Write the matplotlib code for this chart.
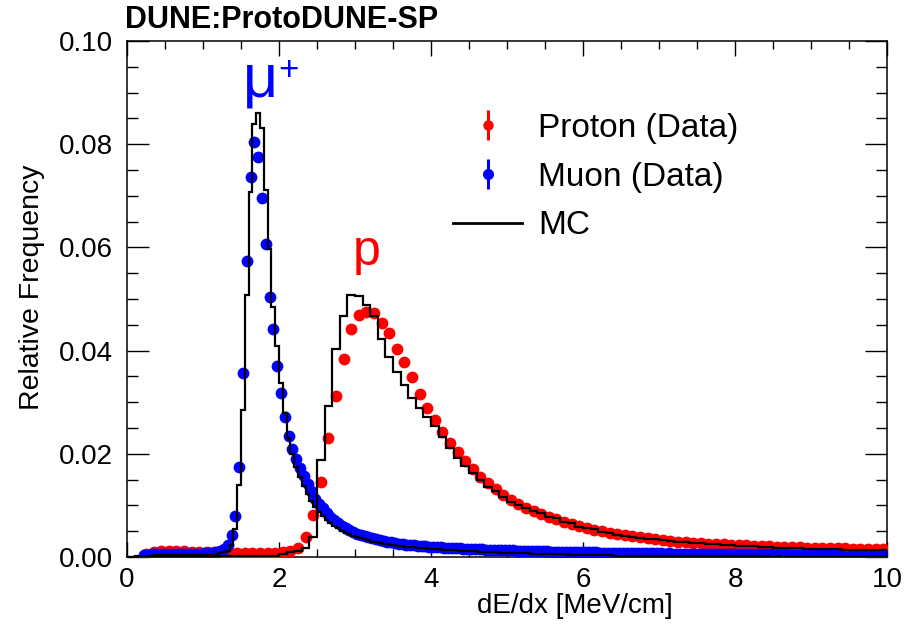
import numpy as np
import matplotlib
matplotlib.use("Agg")
import matplotlib.pyplot as plt
from matplotlib.ticker import MultipleLocator, FormatStrFormatter
from matplotlib.lines import Line2D
from matplotlib.legend_handler import HandlerTuple

plt.rcParams['font.family'] = ['Liberation Sans', 'DejaVu Sans']

# ---------------- data ----------------
# Muon data: 0.05 wide bins, first centre at 0.225
muon_first_center = 0.225
muon_bin_width = 0.05
muon_data = [
    0.0003, 0.0004, 0.0005, 0.0005, 0.0006, 0.0006, 0.0006, 0.0006, 0.0006, 0.0006,  # 0.225-0.675
    0.0006, 0.0006, 0.0006, 0.0006, 0.0006, 0.0006, 0.0007, 0.0007, 0.0008, 0.0009,  # 0.725-1.175
    0.0011, 0.0015, 0.0024, 0.0043, 0.0080, 0.0175, 0.0357, 0.0574, 0.0737, 0.0805,  # 1.225-1.675
    0.0776, 0.0695, 0.0607, 0.0503, 0.0441, 0.0370, 0.0317, 0.0272, 0.0235, 0.0210,  # 1.725-2.175
    0.0190, 0.0172, 0.0157, 0.0142, 0.0127, 0.0113, 0.0103, 0.0094, 0.0086, 0.0078,  # 2.225-2.675
    0.0071, 0.0065, 0.0060, 0.0056, 0.0052, 0.0048, 0.0045, 0.0043, 0.0041, 0.0039,  # 2.725-3.175
    0.0037, 0.0035, 0.0033, 0.0031, 0.0030, 0.0029, 0.0027, 0.0026, 0.0025, 0.0024,  # 3.225-3.675
    0.0023, 0.0023, 0.0022, 0.0021, 0.0021, 0.0020, 0.0020, 0.0019, 0.0019, 0.0018,  # 3.725-4.175
    0.0018, 0.0017, 0.0017, 0.0017, 0.0016, 0.0016, 0.0016, 0.0015, 0.0015, 0.0015,  # 4.225-4.675
    0.0014, 0.0014, 0.0014, 0.0014, 0.0013, 0.0013, 0.0013, 0.0013, 0.0012, 0.0012,  # 4.725-5.175
    0.0012, 0.0012, 0.0011, 0.0011, 0.0011, 0.0011, 0.0011, 0.0010, 0.0010, 0.0010,  # 5.225-5.675
    0.0010, 0.0010, 0.0010, 0.0009, 0.0009, 0.0009, 0.0009, 0.0009, 0.0009, 0.0009,  # 5.725-6.175
    0.0008, 0.0008, 0.0008, 0.0008, 0.0008, 0.0008, 0.0008, 0.0008, 0.0007, 0.0007,  # 6.225-6.675
    0.0007, 0.0007, 0.0007, 0.0007, 0.0007, 0.0007, 0.0007, 0.0006, 0.0007, 0.0006,  # 6.725-7.175
    0.0006, 0.0006, 0.0006, 0.0006, 0.0006, 0.0006, 0.0006, 0.0006, 0.0006, 0.0005,  # 7.225-7.675
    0.0006, 0.0005, 0.0005, 0.0005, 0.0005, 0.0005, 0.0005, 0.0005, 0.0005, 0.0005,  # 7.725-8.175
    0.0005, 0.0005, 0.0005, 0.0005, 0.0005, 0.0005, 0.0004, 0.0005, 0.0004, 0.0005,  # 8.225-8.675
    0.0004, 0.0004, 0.0004, 0.0004, 0.0004, 0.0004, 0.0004, 0.0004, 0.0004, 0.0004,  # 8.725-9.175
    0.0004, 0.0004, 0.0004, 0.0004, 0.0004, 0.0004, 0.0004, 0.0004, 0.0003, 0.0004,  # 9.225-9.675
    0.0004, 0.0003, 0.0004, 0.0003, 0.0004, 0.0003,                                  # 9.725-9.975
]

# Proton data: 0.1 wide bins, first centre at 0.25
proton_first_center = 0.25
proton_bin_width = 0.1
proton_data = [
    0.0005, 0.0010, 0.0012, 0.0012, 0.0011, 0.0011, 0.0010, 0.0010, 0.0009, 0.0009,  # 0.25-1.15
    0.0009, 0.0008, 0.0008, 0.0008, 0.0008, 0.0008, 0.0008, 0.0008, 0.0009, 0.0011,  # 1.25-2.15
    0.0017, 0.0039, 0.0081, 0.0146, 0.0230, 0.0312, 0.0383, 0.0441, 0.0469, 0.0475,  # 2.25-3.15
    0.0472, 0.0453, 0.0434, 0.0404, 0.0378, 0.0349, 0.0316, 0.0289, 0.0266, 0.0243,  # 3.25-4.15
    0.0221, 0.0204, 0.0186, 0.0170, 0.0156, 0.0143, 0.0131, 0.0120, 0.0111, 0.0102,  # 4.25-5.15
    0.0095, 0.0089, 0.0083, 0.0078, 0.0073, 0.0068, 0.0064, 0.0060, 0.0057, 0.0053,  # 5.25-6.15
    0.0050, 0.0047, 0.0044, 0.0042, 0.0040, 0.0038, 0.0036, 0.0034, 0.0033, 0.0031,  # 6.25-7.15
    0.0030, 0.0029, 0.0028, 0.0027, 0.0026, 0.0025, 0.0025, 0.0024, 0.0023, 0.0023,  # 7.25-8.15
    0.0022, 0.0021, 0.0021, 0.0020, 0.0020, 0.0019, 0.0019, 0.0018, 0.0018, 0.0018,  # 8.25-9.15
    0.0017, 0.0017, 0.0017, 0.0016, 0.0016, 0.0016, 0.0015, 0.0015,                  # 9.25-9.95
]

# MC muon histogram: 0.05 wide bins from 0 to 10
mc_muon = [
    0.0000, 0.0000, 0.0001, 0.0001, 0.0002, 0.0002, 0.0002, 0.0003,                  # 0.00-0.40
    0.0004, 0.0004, 0.0004, 0.0004, 0.0004, 0.0004, 0.0004, 0.0004,                  # 0.40-0.80
    0.0004, 0.0004, 0.0004, 0.0004, 0.0004, 0.0004, 0.0004, 0.0005,                  # 0.80-1.20
    0.0007, 0.0009, 0.0012, 0.0023, 0.0055, 0.0140, 0.0285, 0.0508,                  # 1.20-1.60
    0.0708, 0.0839, 0.0861, 0.0831, 0.0711, 0.0596, 0.0485, 0.0409,                  # 1.60-2.00
    0.0337, 0.0279, 0.0230, 0.0200, 0.0175, 0.0156, 0.0138, 0.0122, 0.0108, 0.0097,  # 2.00-2.50
    0.0088, 0.0079, 0.0072, 0.0066, 0.0061, 0.0056, 0.0051, 0.0047, 0.0044, 0.0041,  # 2.50-3.00
    0.0038, 0.0036, 0.0034, 0.0032, 0.0030, 0.0029, 0.0027, 0.0026, 0.0025, 0.0024,  # 3.00-3.50
    0.0023, 0.0022, 0.0021, 0.0020, 0.0019, 0.0019, 0.0018, 0.0017, 0.0017, 0.0016,  # 3.50-4.00
    0.0016, 0.0015, 0.0015, 0.0014, 0.0014, 0.0013, 0.0013, 0.0012, 0.0012, 0.0012,  # 4.00-4.50
    0.0011, 0.0011, 0.0010, 0.0010, 0.0010, 0.0009, 0.0009, 0.0009, 0.0008, 0.0008,  # 4.50-5.00
    0.0008, 0.0008, 0.0007, 0.0007, 0.0007, 0.0007, 0.0006, 0.0006, 0.0006, 0.0006,  # 5.00-5.50
    0.0006, 0.0005, 0.0005, 0.0005, 0.0005, 0.0005, 0.0004, 0.0004, 0.0004, 0.0004,  # 5.50-6.00
    0.0004, 0.0004, 0.0003, 0.0003, 0.0003, 0.0003, 0.0003, 0.0003, 0.0002, 0.0002,  # 6.00-6.50
    0.0002, 0.0002, 0.0002, 0.0002, 0.0002, 0.0002, 0.0002, 0.0001, 0.0001, 0.0001,  # 6.50-7.00
    0.0001, 0.0001, 0.0001, 0.0001, 0.0001, 0.0001, 0.0001, 0.0001, 0.0001, 0.0001,  # 7.00-7.50
    0.0001, 0.0001, 0.0001, 0.0001, 0.0001, 0.0001, 0.0001, 0.0001, 0.0001, 0.0001,  # 7.50-8.00
    0.0001, 0.0001, 0.0001, 0.0001, 0.0001, 0.0001, 0.0001, 0.0000, 0.0001, 0.0000,  # 8.00-8.50
    0.0000, 0.0001, 0.0000, 0.0000, 0.0000, 0.0000, 0.0000, 0.0000, 0.0000, 0.0000,  # 8.50-9.00
    0.0000, 0.0000, 0.0000, 0.0000, 0.0000, 0.0000, 0.0000, 0.0000, 0.0000, 0.0000,  # 9.00-9.50
    0.0000, 0.0000, 0.0000, 0.0000, 0.0000, 0.0000, 0.0000, 0.0000, 0.0000, 0.0000,  # 9.50-10.0
]

# MC proton histogram: 0.1 wide bins from 0 to 10
mc_proton = [
    0.0000, 0.0000, 0.0001, 0.0001, 0.0001, 0.0001, 0.0001, 0.0001, 0.0001, 0.0001,  # 0.0-1.0
    0.0001, 0.0001, 0.0001, 0.0001, 0.0001, 0.0001, 0.0001, 0.0001, 0.0001, 0.0001,  # 1.0-2.0
    0.0006, 0.0009, 0.0012, 0.0017, 0.0038, 0.0188, 0.0293, 0.0403, 0.0467, 0.0508,  # 2.0-3.0
    0.0506, 0.0488, 0.0467, 0.0422, 0.0388, 0.0358, 0.0333, 0.0308, 0.0288, 0.0272,  # 3.0-4.0
    0.0253, 0.0233, 0.0211, 0.0191, 0.0176, 0.0162, 0.0149, 0.0136, 0.0127, 0.0117,  # 4.0-5.0
    0.0107, 0.0101, 0.0094, 0.0090, 0.0086, 0.0078, 0.0075, 0.0068, 0.0065, 0.0059,  # 5.0-6.0
    0.0056, 0.0054, 0.0049, 0.0046, 0.0043, 0.0041, 0.0039, 0.0036, 0.0035, 0.0034,  # 6.0-7.0
    0.0033, 0.0031, 0.0030, 0.0029, 0.0028, 0.0027, 0.0026, 0.0025, 0.0024, 0.0023,  # 7.0-8.0
    0.0022, 0.0021, 0.0021, 0.0020, 0.0019, 0.0018, 0.0018, 0.0017, 0.0017, 0.0016,  # 8.0-9.0
    0.0016, 0.0016, 0.0015, 0.0015, 0.0014, 0.0014, 0.0014, 0.0013, 0.0013, 0.0013,  # 9.0-10.0
]

x_range = (0, 10)
y_range = (0, 0.10)
title_text = "DUNE:ProtoDUNE-SP"
x_label = "dE/dx [MeV/cm]"
y_label = "Relative Frequency"
legend_labels = ["Proton (Data)", "Muon (Data)", "MC"]

# ---------------- derived positions ----------------
muon_x = muon_first_center + muon_bin_width * np.arange(len(muon_data))
proton_x = proton_first_center + proton_bin_width * np.arange(len(proton_data))
mc_muon_edges = np.linspace(x_range[0], x_range[1], len(mc_muon) + 1)
mc_proton_edges = np.linspace(x_range[0], x_range[1], len(mc_proton) + 1)

RED = '#ff0000'
BLUE = '#0000ff'

fig = plt.figure(figsize=(9.10, 6.27), dpi=100)
ax = fig.add_axes([127 / 910, (627 - 557) / 627, 760 / 910, 516 / 627])

ax.plot(proton_x, proton_data, 'o', color=RED, ms=8.5, mew=0, zorder=3)
ax.plot(muon_x, muon_data, 'o', color=BLUE, ms=8.5, mew=0, zorder=4)
ax.stairs(mc_muon, mc_muon_edges, color='black', lw=1.6, zorder=5)
ax.stairs(mc_proton, mc_proton_edges, color='black', lw=1.6, zorder=5)

ax.set_xlim(*x_range)
ax.set_ylim(*y_range)
ax.xaxis.set_major_locator(MultipleLocator(2))
ax.xaxis.set_minor_locator(MultipleLocator(0.5))
ax.yaxis.set_major_locator(MultipleLocator(0.02))
ax.yaxis.set_minor_locator(MultipleLocator(0.005))
ax.xaxis.set_major_formatter(FormatStrFormatter('%g'))
ax.yaxis.set_major_formatter(FormatStrFormatter('%.2f'))
ax.tick_params(which='both', direction='in', top=True, right=True,
               labelsize=20, width=1.0, color='black')
ax.tick_params(axis='x', which='major', length=11, pad=7)
ax.tick_params(axis='x', which='minor', length=6)
ax.tick_params(axis='y', which='major', length=16, pad=10)
ax.tick_params(axis='y', which='minor', length=8)
for s in ax.spines.values():
    s.set_linewidth(1.1)

ax.set_xlabel(x_label, fontsize=20)
ax.xaxis.set_label_coords(0.589, -0.07)
ax.set_ylabel(y_label, fontsize=20.5)
ax.yaxis.set_label_coords(-0.108, 0.522)

fig.text(125 / 910, 1 - 28 / 627, title_text, fontsize=22, fontweight='bold',
         ha='left', va='baseline')

# particle annotations
ax.text(1.52, 0.0893, "\u03bc", color=BLUE, fontsize=44, ha='left', va='baseline')
ax.text(1.99, 0.0925, "+", color=BLUE, fontsize=25, ha='left', va='baseline')
ax.text(3.15, 0.0566, "p", color=RED, fontsize=36, ha='center', va='baseline')

# legend
prot_h = (Line2D([], [], marker='|', ms=22, mew=2.2, color=RED, ls='none'),
          Line2D([], [], marker='o', ms=7.5, mew=0, color=RED, ls='none'))
muon_h = (Line2D([], [], marker='|', ms=22, mew=2.2, color=BLUE, ls='none'),
          Line2D([], [], marker='o', ms=8, mew=0, color=BLUE, ls='none'))
mc_h = Line2D([], [], color='black', lw=2.0)
ax.legend([prot_h, muon_h, mc_h], legend_labels,
          handler_map={tuple: HandlerTuple(ndivide=1)},
          loc='upper left', bbox_to_anchor=((453 - 127) / 760, (557 - 113) / 516),
          borderaxespad=0, borderpad=0, frameon=False, fontsize=24,
          handlelength=2.07, handletextpad=0.48, labelspacing=0.53)

fig.savefig('out.png', dpi=100)
